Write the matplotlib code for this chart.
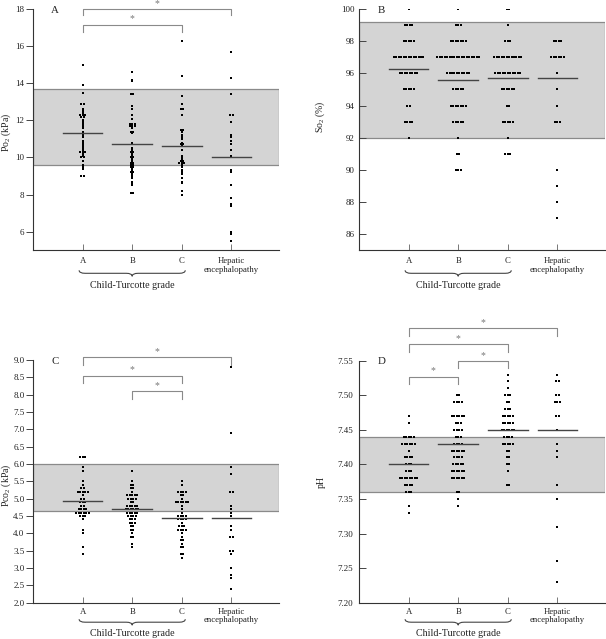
import numpy as np
import matplotlib.pyplot as plt
from matplotlib.path import Path
from matplotlib.patches import PathPatch
from matplotlib.transforms import blended_transform_factory

plt.rcParams['font.family'] = ['Liberation Serif', 'DejaVu Serif']
plt.rcParams['mathtext.fontset'] = 'custom'
plt.rcParams['mathtext.rm'] = 'Liberation Serif'

groups = ["A", "B", "C", "Hepatic\nencephalopathy"]

# Po2 (kPa)
po2_a = [15.0, 13.9, 13.5, 12.9, 12.9, 12.6, 12.5, 12.4, 12.3, 12.3, 12.3, 12.2, 12.2,
         12.0, 11.9, 11.8, 11.7, 11.6, 11.4, 11.3, 11.2, 11.1, 10.9, 10.8, 10.7, 10.6,
         10.5, 10.4, 10.3, 10.3, 10.3, 10.2, 10.1, 10.0, 10.0, 9.8, 9.6, 9.5, 9.4, 9.0, 9.0]
po2_b = [14.6, 14.2, 14.1, 13.4, 13.4, 12.8, 12.6, 12.3, 12.1, 11.8, 11.8, 11.8, 11.7,
         11.7, 11.7, 11.6, 11.4, 11.4, 11.3, 10.8, 10.7, 10.5, 10.4, 10.3, 10.3, 10.2,
         10.1, 10.0, 10.0, 9.9, 9.8, 9.7, 9.7, 9.6, 9.6, 9.5, 9.5, 9.4, 9.3, 9.2, 9.2,
         9.1, 9.0, 8.9, 8.7, 8.6, 8.5, 8.1, 8.1]
po2_c = [16.3, 14.4, 13.3, 12.9, 12.6, 12.6, 12.3, 11.5, 11.5, 11.4, 11.2, 11.1, 11.0,
         10.8, 10.7, 10.7, 10.6, 10.4, 10.1, 10.0, 9.9, 9.8, 9.8, 9.7, 9.7, 9.7, 9.6,
         9.5, 9.3, 9.2, 9.1, 8.9, 8.7, 8.6, 8.2, 8.0]
po2_he = [15.7, 14.3, 13.4, 12.3, 12.3, 11.9, 11.2, 11.1, 10.9, 10.7, 10.4, 10.1,
          9.3, 9.2, 8.5, 7.8, 7.5, 7.4, 6.0, 5.9, 5.5]
po2_median = [11.3, 10.7, 10.6, 10.05]

# So2 (%)
so2_a = [100] + [99] * 4 + [98] * 5 + [97] * 13 + [96] * 8 + [95] * 5 + [94] * 2 + [93] * 4 + [92]
so2_b = ([100] + [99] * 3 + [98] * 7 + [97] * 18 + [96] * 10 + [95] * 5 + [94] * 7 + [93] * 5
         + [92] + [91] * 2 + [90] * 3)
so2_c = [100] * 2 + [99] + [98] * 3 + [97] * 12 + [96] * 11 + [95] * 6 + [94] * 2 + [93] * 5 + [92] + [91] * 3
so2_he = [98] * 4 + [97] * 6 + [96, 95, 94] + [93] * 3 + [90, 89, 88, 87]
so2_median = [96.3, 95.6, 95.7, 95.7]

# Pco2 (kPa)
pco2_a = [6.2, 6.2, 6.2, 5.9, 5.8, 5.5, 5.4, 5.3, 5.3, 5.2, 5.2, 5.2, 5.2, 5.2, 5.1, 5.0,
          5.0, 4.9, 4.9, 4.9, 4.8, 4.8, 4.7, 4.7, 4.7, 4.7, 4.6, 4.6, 4.6, 4.6, 4.6, 4.6,
          4.5, 4.5, 4.5, 4.4, 4.1, 4.0, 3.6, 3.4]
pco2_b = [5.8, 5.5, 5.4, 5.4, 5.3, 5.3, 5.2, 5.1, 5.1, 5.1, 5.1, 5.1, 5.0, 5.0, 5.0, 5.0,
          4.9, 4.9, 4.8, 4.8, 4.8, 4.8, 4.8, 4.7, 4.7, 4.7, 4.7, 4.7, 4.7, 4.6, 4.6, 4.6,
          4.6, 4.6, 4.5, 4.5, 4.5, 4.5, 4.4, 4.4, 4.4, 4.3, 4.3, 4.3, 4.2, 4.2, 4.1, 4.1,
          4.0, 3.9, 3.9, 3.7, 3.6]
pco2_c = [5.5, 5.4, 5.2, 5.2, 5.2, 5.2, 5.1, 5.1, 5.0, 4.9, 4.9, 4.9, 4.9, 4.9, 4.9, 4.8,
          4.7, 4.6, 4.5, 4.5, 4.5, 4.5, 4.4, 4.4, 4.4, 4.4, 4.3, 4.2, 4.2, 4.2, 4.1, 4.1,
          4.1, 4.1, 4.0, 3.9, 3.8, 3.8, 3.7, 3.6, 3.6, 3.4, 3.4, 3.3]
pco2_he = [8.8, 6.9, 5.9, 5.7, 5.2, 5.2, 4.8, 4.7, 4.6, 4.5, 4.2, 4.1, 3.9, 3.9, 3.5, 3.5,
           3.4, 3.0, 2.8, 2.7, 2.4]
pco2_median = [4.93, 4.70, 4.45, 4.45]

# pH
ph_a = ([7.47, 7.46] + [7.44] * 5 + [7.43] * 6 + [7.42] + [7.41] * 4 + [7.40] * 3 + [7.39] * 3
        + [7.38] * 8 + [7.37] * 4 + [7.36] * 3 + [7.34, 7.33])
ph_b = ([7.50] * 2 + [7.49] * 4 + [7.47] * 6 + [7.46] * 3 + [7.45] * 4 + [7.44] * 3 + [7.43] * 4
        + [7.42] * 6 + [7.41] * 4 + [7.40] * 5 + [7.39] * 6 + [7.38] * 6 + [7.36] * 2 + [7.35, 7.34])
ph_c = ([7.53, 7.52, 7.51] + [7.50] * 3 + [7.49] * 2 + [7.48] * 3 + [7.47] * 5 + [7.46] * 5
        + [7.45] * 6 + [7.44] * 4 + [7.43] * 5 + [7.42] * 2 + [7.41] * 2 + [7.40] * 2 + [7.39] + [7.37] * 2)
ph_he = ([7.53] + [7.52] * 2 + [7.50] * 2 + [7.49] * 3 + [7.47] * 2 + [7.45, 7.43, 7.42, 7.41,
         7.37, 7.35, 7.31, 7.26, 7.23])
ph_median = [7.40, 7.43, 7.45, 7.45]

normal_po2 = (9.6, 13.7)
normal_so2 = (91.95, 99.2)
normal_pco2 = (4.65, 6.0)
normal_ph = (7.36, 7.44)

DARK = '#222222'
GREY = '#8a8a8a'


def spread(values, center, dx=0.05):
    xs, ys = [], []
    vals = [round(v, 3) for v in values]
    for v in sorted(set(vals)):
        n = vals.count(v)
        offs = (np.arange(n) - (n - 1) / 2) * dx
        xs += list(center + offs)
        ys += [v] * n
    return xs, ys


def brace(ax, x0, x1, top_px, depth_px):
    h = ax.get_position().height * 639
    yt = -top_px / h
    ym = -(top_px + depth_px / 2) / h
    yb = -(top_px + depth_px) / h
    xm = (x0 + x1) / 2
    w = 0.12
    verts = [(x0, yt), (x0, ym), (x0 + w, ym), (xm - w, ym), (xm, ym), (xm, yb),
             (xm, ym), (xm + w, ym), (x1 - w, ym), (x1, ym), (x1, yt)]
    codes = [Path.MOVETO, Path.CURVE3, Path.CURVE3, Path.LINETO, Path.CURVE3, Path.CURVE3,
             Path.CURVE3, Path.CURVE3, Path.LINETO, Path.CURVE3, Path.CURVE3]
    tr = blended_transform_factory(ax.transData, ax.transAxes)
    ax.add_patch(PathPatch(Path(verts, codes), transform=tr, fill=False,
                           edgecolor='#444444', lw=0.8, clip_on=False))


def panel(rect, data, medians, band, ylim, yticks, fmt, ylabel, ylab_xy, letter,
          brackets, tick_dir, ypad, xpad, brace_px, text_px):
    ax = fig.add_axes(rect)
    ax.axhspan(band[0], band[1], facecolor='#d4d4d4', edgecolor=GREY, lw=0.9, zorder=0)
    for i, vals in enumerate(data):
        xs, ys = spread(vals, i + 1)
        ax.scatter(xs, ys, s=4.5, color='black', marker='s', lw=0, zorder=3)
        ax.plot([i + 1 - 0.4, i + 1 + 0.4], [medians[i]] * 2, color='#444444', lw=1.0, zorder=4)
    for x0, x1, y, yleg, ystar in brackets:
        ax.plot([x0, x0, x1, x1], [yleg, y, y, yleg], color=GREY, lw=0.8, clip_on=False)
        ax.text((x0 + x1) / 2, ystar, '*', ha='center', va='center', fontsize=7,
                color='#777777', clip_on=False)
    ax.set_xlim(0, 4.96)
    ax.set_ylim(*ylim)
    ax.set_yticks(yticks)
    ax.set_yticklabels([fmt % t for t in yticks], fontsize=6.5, color=DARK)
    ax.set_xticks([1, 2, 3, 4])
    ax.set_xticklabels(groups, fontsize=6.3, color=DARK, linespacing=1.05, va='top')
    ax.tick_params(axis='y', direction=tick_dir, length=5, width=0.7, pad=ypad, color='#444444')
    ax.tick_params(axis='x', direction='in', length=4, width=0.7, pad=xpad, color='#777777')
    for s in ['top', 'right']:
        ax.spines[s].set_visible(False)
    for s in ['left', 'bottom']:
        ax.spines[s].set_linewidth(0.8)
        ax.spines[s].set_color('#333333')
    ax.set_ylabel(ylabel, fontsize=7.0, color=DARK)
    ax.yaxis.set_label_coords(*ylab_xy)
    ax.text(0.09, 0.995, letter, transform=ax.transAxes, fontsize=7.8, color=DARK,
            ha='center', va='center')
    brace(ax, 0.93, 3.07, brace_px, 6)
    h = ax.get_position().height * 639
    ax.text(2.0, -text_px / h, 'Child-Turcotte grade', fontsize=7.2, color=DARK,
            ha='center', va='center', transform=blended_transform_factory(ax.transData, ax.transAxes))
    return ax


fig = plt.figure(figsize=(6.06, 6.39), dpi=100)

panel([33 / 606, (639 - 250.3) / 639, 246 / 606, 241.3 / 639],
      [po2_a, po2_b, po2_c, po2_he], po2_median, normal_po2, (5, 18), list(range(6, 19, 2)), '%d',
      r'Po$_\mathregular{2}$ (kPa)', (-0.08, 0.49), 'A',
      [(1, 4, 18.0, 17.68, 18.3), (1, 3, 17.14, 16.78, 17.5)],
      'out', 1.2, 5.0, 20, 35)

panel([359 / 606, (639 - 250.3) / 639, 246 / 606, 241.3 / 639],
      [so2_a, so2_b, so2_c, so2_he], so2_median, normal_so2, (85, 100), list(range(86, 101, 2)), '%d',
      r'So$_\mathregular{2}$ (%)', (-0.13, 0.553), 'B', [],
      'in', 3.0, 5.0, 20, 35)

panel([33 / 606, (639 - 602.7) / 639, 246 / 606, 242.7 / 639],
      [pco2_a, pco2_b, pco2_c, pco2_he], pco2_median, normal_pco2, (2, 9),
      list(np.arange(2.0, 9.01, 0.5)), '%.1f',
      r'Pco$_\mathregular{2}$ (kPa)', (-0.08, 0.485), 'C',
      [(1, 4, 9.08, 8.86, 9.25), (1, 3, 8.54, 8.33, 8.71), (2, 3, 8.10, 7.87, 8.26)],
      'out', 1.2, 3.6, 16.5, 30.5)

panel([359 / 606, (639 - 602.7) / 639, 246 / 606, 242 / 639],
      [ph_a, ph_b, ph_c, ph_he], ph_median, normal_ph, (7.2, 7.55),
      list(np.arange(7.20, 7.551, 0.05)), '%.2f',
      'pH', (-0.134, 0.50), 'D',
      [(1, 4, 7.597, 7.586, 7.605), (1, 3, 7.574, 7.563, 7.582),
       (2, 3, 7.55, 7.540, 7.558), (1, 2, 7.527, 7.516, 7.535)],
      'in', 4.0, 3.6, 16.5, 30.5)

fig.savefig('out.png', dpi=100)
